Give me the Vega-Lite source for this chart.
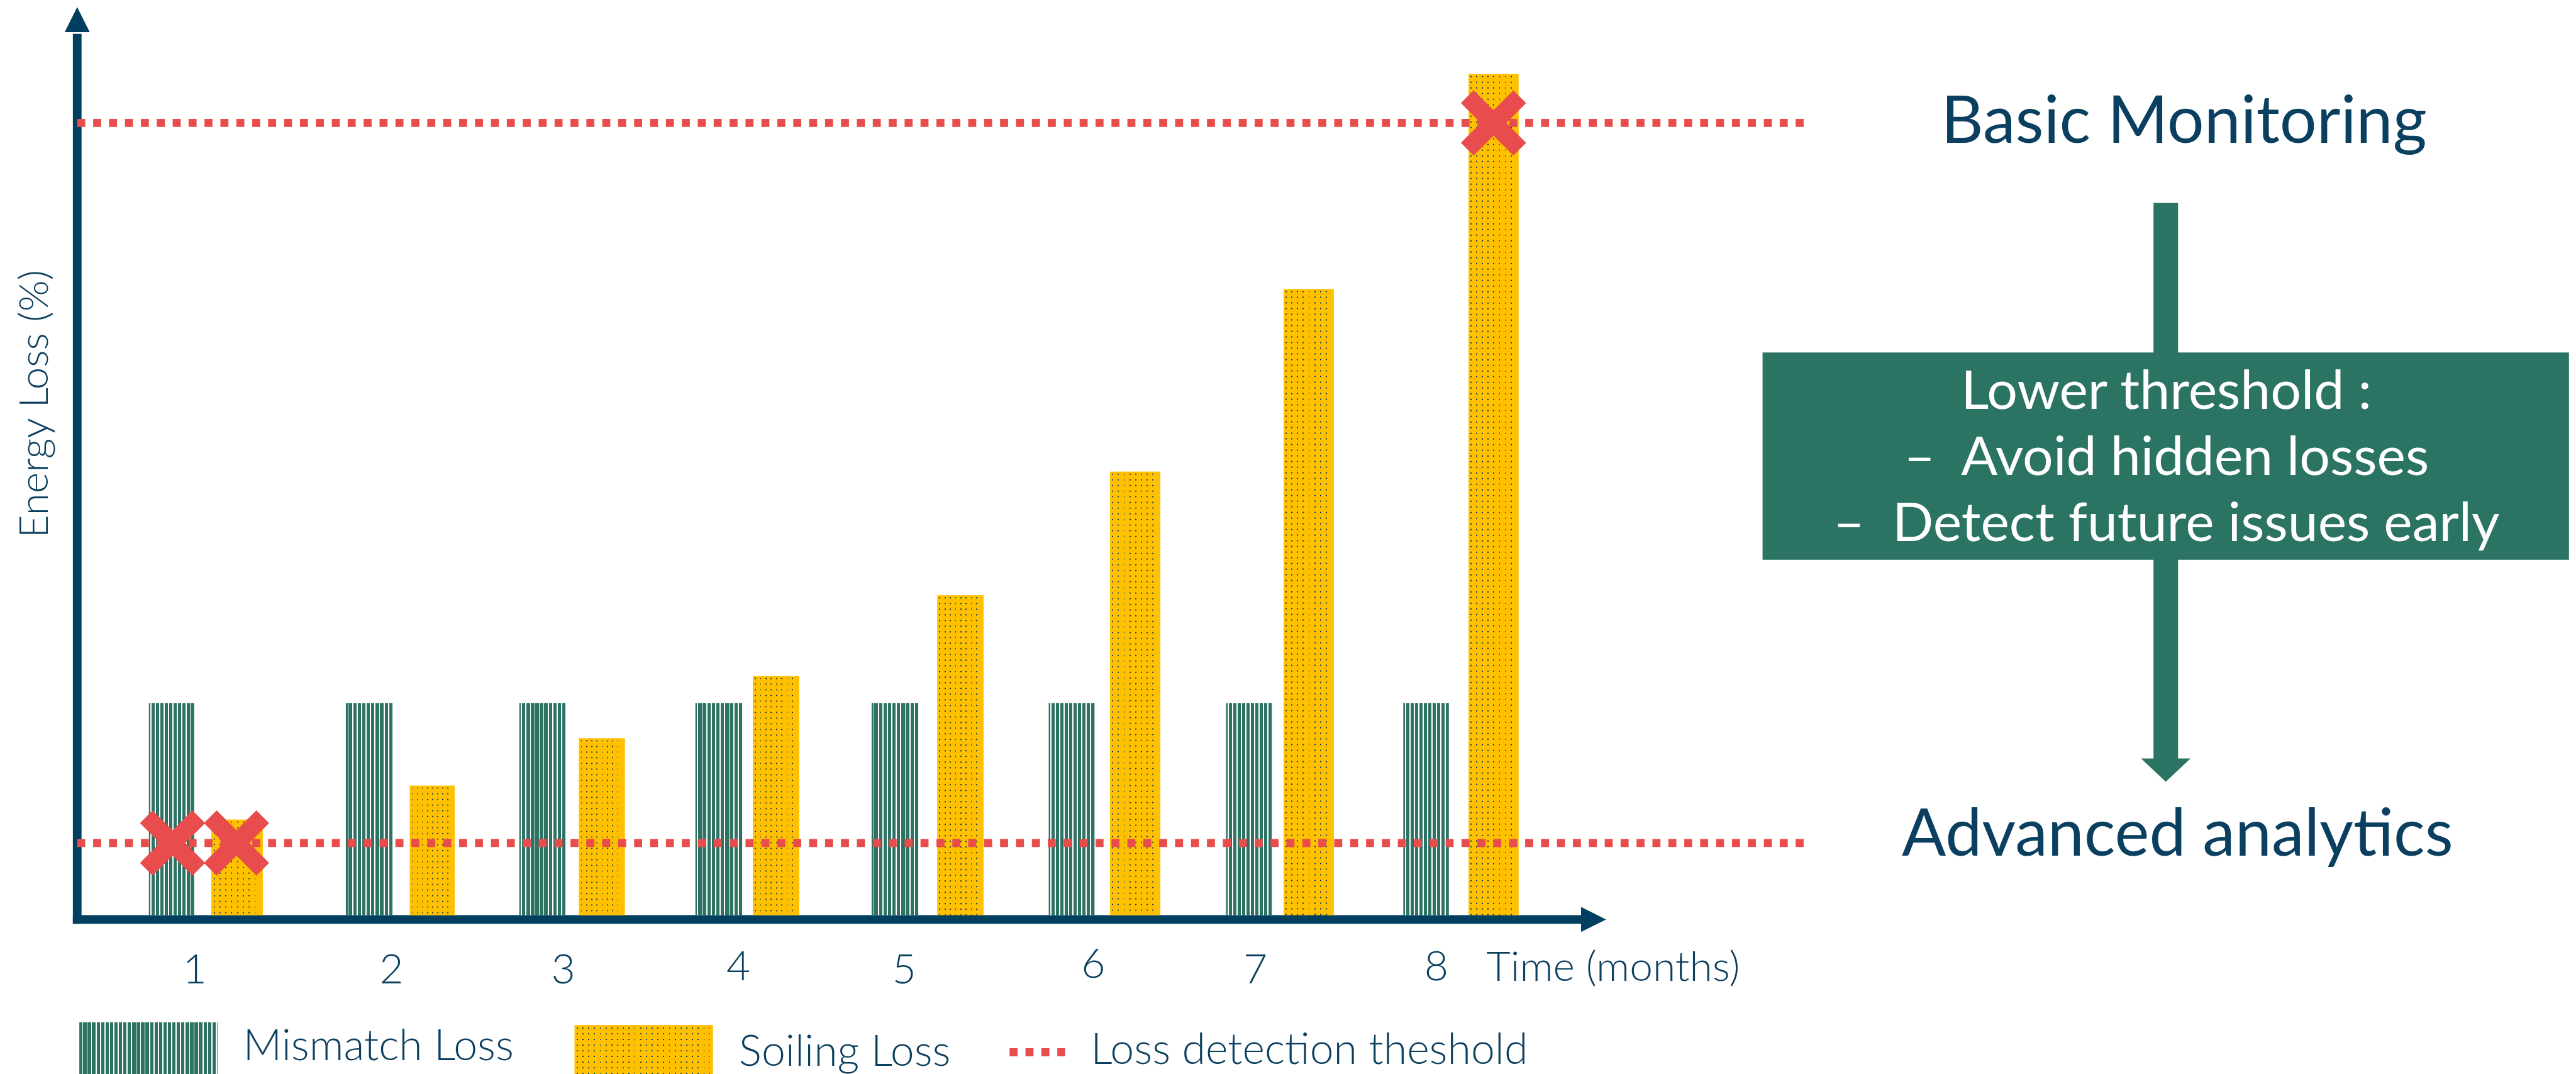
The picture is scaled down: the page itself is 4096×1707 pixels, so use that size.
{
  "$schema": "https://vega.github.io/schema/vega-lite/v6.json",
  "width": 4096,
  "height": 1707,
  "autosize": {"type": "none"},
  "padding": 0,
  "background": "#ffffff",
  "config": {"view": {"stroke": null}, "text": {"font": "Lato"}},
  "datasets": {
    "axes": [
      {"axis": "energy loss", "t": 0.196875, "t2": 0.196875, "v": -0.123, "v2": 12.46},
      {"axis": "time", "t": 0.172, "t2": 8.847, "v": -0.0615, "v2": -0.0615}
    ],
    "arrowheads": [
      {"axis": "time", "direction": "right", "t": 8.9125, "v": -0.0615},
      {"axis": "energy loss", "direction": "up", "t": 0.196875, "v": 12.6615}
    ],
    "mismatch": [
      {"month": 1, "start": 0.609, "end": 0.869, "loss": 3.0},
      {"month": 2, "start": 1.741, "end": 2.009, "loss": 3.0},
      {"month": 3, "start": 2.738, "end": 3.003, "loss": 3.0},
      {"month": 4, "start": 3.75, "end": 4.019, "loss": 3.0},
      {"month": 5, "start": 4.763, "end": 5.031, "loss": 3.0},
      {"month": 6, "start": 5.781, "end": 6.044, "loss": 3.0},
      {"month": 7, "start": 6.8, "end": 7.063, "loss": 3.0},
      {"month": 8, "start": 7.819, "end": 8.081, "loss": 3.0}
    ],
    "soiling": [
      {"month": 1, "start": 0.969, "end": 1.263, "loss": 1.35},
      {"month": 2, "start": 2.109, "end": 2.366, "loss": 1.83},
      {"month": 3, "start": 3.081, "end": 3.344, "loss": 2.5},
      {"month": 4, "start": 4.081, "end": 4.347, "loss": 3.38},
      {"month": 5, "start": 5.141, "end": 5.406, "loss": 4.52},
      {"month": 6, "start": 6.134, "end": 6.422, "loss": 6.27},
      {"month": 7, "start": 7.131, "end": 7.419, "loss": 8.85},
      {"month": 8, "start": 8.194, "end": 8.481, "loss": 11.89}
    ],
    "thresholds": [
      {"level": "Basic Monitoring", "loss": 11.2, "start": 0.197, "end": 10.144},
      {"level": "Advanced analytics", "loss": 1.02, "start": 0.197, "end": 10.144}
    ],
    "detections": [
      {"month": 1, "series": "Mismatch Loss", "t": 0.745, "loss": 1.02},
      {"month": 1, "series": "Soiling Loss", "t": 1.1125, "loss": 1.02},
      {"month": 8, "series": "Soiling Loss", "t": 8.3375, "loss": 11.2}
    ],
    "months": [
      {"month": 1, "t": 0.872, "v": -0.9615},
      {"month": 2, "t": 2.003, "v": -0.9615},
      {"month": 3, "t": 2.991, "v": -0.9615},
      {"month": 4, "t": 3.997, "v": -0.923},
      {"month": 5, "t": 4.95, "v": -0.9615},
      {"month": 6, "t": 6.0375, "v": -0.885},
      {"month": 7, "t": 6.969, "v": -0.9615},
      {"month": 8, "t": 8.009, "v": -0.923}
    ],
    "legend": [
      {"series": "Mismatch Loss", "start": 0.209, "end": 1.003, "top": -1.515, "bottom": -2.246, "label_t": 1.15, "label_v": -2.054},
      {"series": "Soiling Loss", "start": 3.056, "end": 3.85, "top": -1.554, "bottom": -2.246, "label_t": 4.0, "label_v": -2.131},
      {"series": "Loss detection theshold", "start": 5.556, "end": 5.875, "top": -1.938, "bottom": -1.938, "label_t": 6.022, "label_v": -2.1}
    ],
    "flow": [
      {"from": "Basic Monitoring", "to": "Advanced analytics", "t": 12.2016, "v": 10.069, "v2": 2.18, "head_v": 2.05}
    ],
    "box": [
      {"t": 9.884, "t2": 14.519, "v": 7.954, "v2": 5.023}
    ],
    "box_lines": [
      {"line": 1, "text": "Lower threshold :", "t": 12.205, "v": 7.154},
      {"line": 2, "text": "–\u00a0\u00a0Avoid hidden losses", "t": 12.205, "v": 6.223},
      {"line": 3, "text": "–\u00a0\u00a0Detect future issues early", "t": 12.205, "v": 5.292}
    ],
    "levels": [
      {"level": "Basic Monitoring", "t": 12.306, "v": 10.923},
      {"level": "Advanced analytics", "t": 12.269, "v": 0.838}
    ]
  },
  "layer": [
    {
      "data": {"name": "axes"},
      "mark": {"type": "rule", "color": "#003f5f", "strokeWidth": 13.8, "strokeCap": "butt"},
      "encoding": {
        "x": {"field": "t", "type": "quantitative", "scale": {"domain": [-0.246875, 14.559375], "nice": false, "zero": false}, "axis": null},
        "x2": {"field": "t2"},
        "y": {"field": "v", "type": "quantitative", "scale": {"domain": [-2.246154, 12.938462], "nice": false, "zero": false}, "axis": null},
        "y2": {"field": "v2"}
      }
    },
    {
      "data": {"name": "arrowheads"},
      "mark": {"type": "point", "filled": true, "opacity": 1, "size": 1579, "color": "#003f5f", "strokeWidth": 0},
      "encoding": {
        "x": {"field": "t", "type": "quantitative", "scale": {"domain": [-0.246875, 14.559375], "nice": false, "zero": false}, "axis": null},
        "y": {"field": "v", "type": "quantitative", "scale": {"domain": [-2.246154, 12.938462], "nice": false, "zero": false}, "axis": null},
        "shape": {"field": "direction", "type": "nominal", "scale": {"domain": ["right", "up"], "range": ["M-1,-1L1,0L-1,1Z", "M-1,1L0,-1L1,1Z"]}, "legend": null}
      }
    },
    {
      "data": {"name": "mismatch"},
      "mark": {
        "type": "rect",
        "fill": {
          "gradient": "linear", "x1": 0, "y1": 0, "x2": 1, "y2": 0,
          "stops": [
            {"offset": 0, "color": "#2c7363"},
            {"offset": 0.036, "color": "#2c7363"}, {"offset": 0.036, "color": "#ffffff"}, {"offset": 0.06, "color": "#ffffff"}, {"offset": 0.06, "color": "#2c7363"},
            {"offset": 0.1324, "color": "#2c7363"}, {"offset": 0.1324, "color": "#ffffff"}, {"offset": 0.1564, "color": "#ffffff"}, {"offset": 0.1564, "color": "#2c7363"},
            {"offset": 0.2288, "color": "#2c7363"}, {"offset": 0.2288, "color": "#ffffff"}, {"offset": 0.2528, "color": "#ffffff"}, {"offset": 0.2528, "color": "#2c7363"},
            {"offset": 0.3252, "color": "#2c7363"}, {"offset": 0.3252, "color": "#ffffff"}, {"offset": 0.3492, "color": "#ffffff"}, {"offset": 0.3492, "color": "#2c7363"},
            {"offset": 0.4216, "color": "#2c7363"}, {"offset": 0.4216, "color": "#ffffff"}, {"offset": 0.4456, "color": "#ffffff"}, {"offset": 0.4456, "color": "#2c7363"},
            {"offset": 0.518, "color": "#2c7363"}, {"offset": 0.518, "color": "#ffffff"}, {"offset": 0.542, "color": "#ffffff"}, {"offset": 0.542, "color": "#2c7363"},
            {"offset": 0.6144, "color": "#2c7363"}, {"offset": 0.6144, "color": "#ffffff"}, {"offset": 0.6384, "color": "#ffffff"}, {"offset": 0.6384, "color": "#2c7363"},
            {"offset": 0.7108, "color": "#2c7363"}, {"offset": 0.7108, "color": "#ffffff"}, {"offset": 0.7348, "color": "#ffffff"}, {"offset": 0.7348, "color": "#2c7363"},
            {"offset": 0.8072, "color": "#2c7363"}, {"offset": 0.8072, "color": "#ffffff"}, {"offset": 0.8312, "color": "#ffffff"}, {"offset": 0.8312, "color": "#2c7363"},
            {"offset": 0.9036, "color": "#2c7363"}, {"offset": 0.9036, "color": "#ffffff"}, {"offset": 0.9276, "color": "#ffffff"}, {"offset": 0.9276, "color": "#2c7363"},
            {"offset": 1, "color": "#2c7363"}
          ]
        }
      },
      "encoding": {
        "x": {"field": "start", "type": "quantitative", "scale": {"domain": [-0.246875, 14.559375], "nice": false, "zero": false}, "axis": null},
        "x2": {"field": "end"},
        "y": {"field": "loss", "type": "quantitative", "scale": {"domain": [-2.246154, 12.938462], "nice": false, "zero": false}, "axis": null},
        "y2": {"datum": 0}
      }
    },
    {
      "data": {"name": "soiling"},
      "mark": {"type": "rect", "fill": "#ffc000"},
      "encoding": {
        "x": {"field": "start", "type": "quantitative", "scale": {"domain": [-0.246875, 14.559375], "nice": false, "zero": false}, "axis": null},
        "x2": {"field": "end"},
        "y": {"field": "loss", "type": "quantitative", "scale": {"domain": [-2.246154, 12.938462], "nice": false, "zero": false}, "axis": null},
        "y2": {"datum": 0}
      }
    },
    {
      "data": {"name": "soiling"},
      "mark": {"type": "rule", "color": "#0e3b5c", "strokeWidth": 70, "xOffset": 35.5, "strokeDash": [1.8, 7.2], "strokeDashOffset": -3, "strokeCap": "butt"},
      "encoding": {
        "x": {"field": "start", "type": "quantitative", "scale": {"domain": [-0.246875, 14.559375], "nice": false, "zero": false}, "axis": null},
        "y": {"field": "loss", "type": "quantitative", "scale": {"domain": [-2.246154, 12.938462], "nice": false, "zero": false}, "axis": null},
        "y2": {"datum": 0}
      }
    },
    {
      "data": {"name": "soiling"},
      "mark": {
        "type": "rect",
        "fill": {
          "gradient": "linear", "x1": 0, "y1": 0, "x2": 1, "y2": 0,
          "stops": [
            {"offset": 0, "color": "#ffc000"},
            {"offset": 0.04, "color": "#ffc000"}, {"offset": 0.04, "color": "rgba(255,192,0,0)"}, {"offset": 0.064, "color": "rgba(255,192,0,0)"}, {"offset": 0.064, "color": "#ffc000"},
            {"offset": 0.154, "color": "#ffc000"}, {"offset": 0.154, "color": "rgba(255,192,0,0)"}, {"offset": 0.178, "color": "rgba(255,192,0,0)"}, {"offset": 0.178, "color": "#ffc000"},
            {"offset": 0.268, "color": "#ffc000"}, {"offset": 0.268, "color": "rgba(255,192,0,0)"}, {"offset": 0.292, "color": "rgba(255,192,0,0)"}, {"offset": 0.292, "color": "#ffc000"},
            {"offset": 0.382, "color": "#ffc000"}, {"offset": 0.382, "color": "rgba(255,192,0,0)"}, {"offset": 0.406, "color": "rgba(255,192,0,0)"}, {"offset": 0.406, "color": "#ffc000"},
            {"offset": 0.496, "color": "#ffc000"}, {"offset": 0.496, "color": "rgba(255,192,0,0)"}, {"offset": 0.52, "color": "rgba(255,192,0,0)"}, {"offset": 0.52, "color": "#ffc000"},
            {"offset": 0.61, "color": "#ffc000"}, {"offset": 0.61, "color": "rgba(255,192,0,0)"}, {"offset": 0.634, "color": "rgba(255,192,0,0)"}, {"offset": 0.634, "color": "#ffc000"},
            {"offset": 0.724, "color": "#ffc000"}, {"offset": 0.724, "color": "rgba(255,192,0,0)"}, {"offset": 0.748, "color": "rgba(255,192,0,0)"}, {"offset": 0.748, "color": "#ffc000"},
            {"offset": 0.838, "color": "#ffc000"}, {"offset": 0.838, "color": "rgba(255,192,0,0)"}, {"offset": 0.862, "color": "rgba(255,192,0,0)"}, {"offset": 0.862, "color": "#ffc000"},
            {"offset": 1, "color": "#ffc000"}
          ]
        }
      },
      "encoding": {
        "x": {"field": "start", "type": "quantitative", "scale": {"domain": [-0.246875, 14.559375], "nice": false, "zero": false}, "axis": null},
        "x2": {"field": "end"},
        "y": {"field": "loss", "type": "quantitative", "scale": {"domain": [-2.246154, 12.938462], "nice": false, "zero": false}, "axis": null},
        "y2": {"datum": 0}
      }
    },
    {
      "data": {"name": "thresholds"},
      "mark": {"type": "rule", "color": "#e84c4c", "strokeWidth": 12.7, "strokeDash": [12.7, 12.6], "strokeCap": "butt"},
      "encoding": {
        "x": {"field": "start", "type": "quantitative", "scale": {"domain": [-0.246875, 14.559375], "nice": false, "zero": false}, "axis": null},
        "x2": {"field": "end"},
        "y": {"field": "loss", "type": "quantitative", "scale": {"domain": [-2.246154, 12.938462], "nice": false, "zero": false}, "axis": null}
      }
    },
    {
      "data": {"name": "detections"},
      "mark": {"type": "point", "filled": true, "opacity": 1, "size": 10750, "color": "#e84c4c", "strokeWidth": 0,
               "shape": "M0,-0.39L0.61,-1L1,-0.61L0.39,0L1,0.61L0.61,1L0,0.39L-0.61,1L-1,0.61L-0.39,0L-1,-0.61L-0.61,-1Z"},
      "encoding": {
        "x": {"field": "t", "type": "quantitative", "scale": {"domain": [-0.246875, 14.559375], "nice": false, "zero": false}, "axis": null},
        "y": {"field": "loss", "type": "quantitative", "scale": {"domain": [-2.246154, 12.938462], "nice": false, "zero": false}, "axis": null}
      }
    },
    {
      "data": {"name": "months"},
      "mark": {"type": "text", "fontSize": 66, "fontWeight": 300, "color": "#0b3f5f", "align": "center", "baseline": "alphabetic"},
      "encoding": {
        "x": {"field": "t", "type": "quantitative", "scale": {"domain": [-0.246875, 14.559375], "nice": false, "zero": false}, "axis": null},
        "y": {"field": "v", "type": "quantitative", "scale": {"domain": [-2.246154, 12.938462], "nice": false, "zero": false}, "axis": null},
        "text": {"field": "month", "type": "nominal"}
      }
    },
    {
      "data": {"values": [{"title": "Time (months)", "t": 8.297, "v": -0.931}]},
      "mark": {"type": "text", "fontSize": 66, "fontWeight": 300, "color": "#0b3f5f", "align": "left", "baseline": "alphabetic"},
      "encoding": {
        "x": {"field": "t", "type": "quantitative", "scale": {"domain": [-0.246875, 14.559375], "nice": false, "zero": false}, "axis": null},
        "y": {"field": "v", "type": "quantitative", "scale": {"domain": [-2.246154, 12.938462], "nice": false, "zero": false}, "axis": null},
        "text": {"field": "title", "type": "nominal"}
      }
    },
    {
      "data": {"values": [{"title": "Energy Loss (%)", "t": 0.028, "v": 7.227}]},
      "mark": {"type": "text", "fontSize": 64, "fontWeight": 300, "color": "#0b3f5f", "align": "center", "baseline": "alphabetic", "angle": 270},
      "encoding": {
        "x": {"field": "t", "type": "quantitative", "scale": {"domain": [-0.246875, 14.559375], "nice": false, "zero": false}, "axis": null},
        "y": {"field": "v", "type": "quantitative", "scale": {"domain": [-2.246154, 12.938462], "nice": false, "zero": false}, "axis": null},
        "text": {"field": "title", "type": "nominal"}
      }
    },
    {
      "data": {"name": "legend"},
      "transform": [{"filter": "datum.series === 'Mismatch Loss'"}],
      "mark": {
        "type": "rect",
        "fill": {
          "gradient": "linear", "x1": 0, "y1": 0, "x2": 1, "y2": 0,
          "stops": [
            {"offset": 0, "color": "#2c7363"},
            {"offset": 0.02, "color": "#2c7363"}, {"offset": 0.02, "color": "#ffffff"}, {"offset": 0.028, "color": "#ffffff"}, {"offset": 0.028, "color": "#2c7363"},
            {"offset": 0.0523, "color": "#2c7363"}, {"offset": 0.0523, "color": "#ffffff"}, {"offset": 0.0603, "color": "#ffffff"}, {"offset": 0.0603, "color": "#2c7363"},
            {"offset": 0.0845, "color": "#2c7363"}, {"offset": 0.0845, "color": "#ffffff"}, {"offset": 0.0925, "color": "#ffffff"}, {"offset": 0.0925, "color": "#2c7363"},
            {"offset": 0.1168, "color": "#2c7363"}, {"offset": 0.1168, "color": "#ffffff"}, {"offset": 0.1248, "color": "#ffffff"}, {"offset": 0.1248, "color": "#2c7363"},
            {"offset": 0.149, "color": "#2c7363"}, {"offset": 0.149, "color": "#ffffff"}, {"offset": 0.157, "color": "#ffffff"}, {"offset": 0.157, "color": "#2c7363"},
            {"offset": 0.1813, "color": "#2c7363"}, {"offset": 0.1813, "color": "#ffffff"}, {"offset": 0.1893, "color": "#ffffff"}, {"offset": 0.1893, "color": "#2c7363"},
            {"offset": 0.2135, "color": "#2c7363"}, {"offset": 0.2135, "color": "#ffffff"}, {"offset": 0.2215, "color": "#ffffff"}, {"offset": 0.2215, "color": "#2c7363"},
            {"offset": 0.2458, "color": "#2c7363"}, {"offset": 0.2458, "color": "#ffffff"}, {"offset": 0.2538, "color": "#ffffff"}, {"offset": 0.2538, "color": "#2c7363"},
            {"offset": 0.2781, "color": "#2c7363"}, {"offset": 0.2781, "color": "#ffffff"}, {"offset": 0.2861, "color": "#ffffff"}, {"offset": 0.2861, "color": "#2c7363"},
            {"offset": 0.3103, "color": "#2c7363"}, {"offset": 0.3103, "color": "#ffffff"}, {"offset": 0.3183, "color": "#ffffff"}, {"offset": 0.3183, "color": "#2c7363"},
            {"offset": 0.3426, "color": "#2c7363"}, {"offset": 0.3426, "color": "#ffffff"}, {"offset": 0.3506, "color": "#ffffff"}, {"offset": 0.3506, "color": "#2c7363"},
            {"offset": 0.3748, "color": "#2c7363"}, {"offset": 0.3748, "color": "#ffffff"}, {"offset": 0.3828, "color": "#ffffff"}, {"offset": 0.3828, "color": "#2c7363"},
            {"offset": 0.4071, "color": "#2c7363"}, {"offset": 0.4071, "color": "#ffffff"}, {"offset": 0.4151, "color": "#ffffff"}, {"offset": 0.4151, "color": "#2c7363"},
            {"offset": 0.4394, "color": "#2c7363"}, {"offset": 0.4394, "color": "#ffffff"}, {"offset": 0.4474, "color": "#ffffff"}, {"offset": 0.4474, "color": "#2c7363"},
            {"offset": 0.4716, "color": "#2c7363"}, {"offset": 0.4716, "color": "#ffffff"}, {"offset": 0.4796, "color": "#ffffff"}, {"offset": 0.4796, "color": "#2c7363"},
            {"offset": 0.5039, "color": "#2c7363"}, {"offset": 0.5039, "color": "#ffffff"}, {"offset": 0.5119, "color": "#ffffff"}, {"offset": 0.5119, "color": "#2c7363"},
            {"offset": 0.5361, "color": "#2c7363"}, {"offset": 0.5361, "color": "#ffffff"}, {"offset": 0.5441, "color": "#ffffff"}, {"offset": 0.5441, "color": "#2c7363"},
            {"offset": 0.5684, "color": "#2c7363"}, {"offset": 0.5684, "color": "#ffffff"}, {"offset": 0.5764, "color": "#ffffff"}, {"offset": 0.5764, "color": "#2c7363"},
            {"offset": 0.6006, "color": "#2c7363"}, {"offset": 0.6006, "color": "#ffffff"}, {"offset": 0.6086, "color": "#ffffff"}, {"offset": 0.6086, "color": "#2c7363"},
            {"offset": 0.6329, "color": "#2c7363"}, {"offset": 0.6329, "color": "#ffffff"}, {"offset": 0.6409, "color": "#ffffff"}, {"offset": 0.6409, "color": "#2c7363"},
            {"offset": 0.6652, "color": "#2c7363"}, {"offset": 0.6652, "color": "#ffffff"}, {"offset": 0.6732, "color": "#ffffff"}, {"offset": 0.6732, "color": "#2c7363"},
            {"offset": 0.6974, "color": "#2c7363"}, {"offset": 0.6974, "color": "#ffffff"}, {"offset": 0.7054, "color": "#ffffff"}, {"offset": 0.7054, "color": "#2c7363"},
            {"offset": 0.7297, "color": "#2c7363"}, {"offset": 0.7297, "color": "#ffffff"}, {"offset": 0.7377, "color": "#ffffff"}, {"offset": 0.7377, "color": "#2c7363"},
            {"offset": 0.7619, "color": "#2c7363"}, {"offset": 0.7619, "color": "#ffffff"}, {"offset": 0.7699, "color": "#ffffff"}, {"offset": 0.7699, "color": "#2c7363"},
            {"offset": 0.7942, "color": "#2c7363"}, {"offset": 0.7942, "color": "#ffffff"}, {"offset": 0.8022, "color": "#ffffff"}, {"offset": 0.8022, "color": "#2c7363"},
            {"offset": 0.8265, "color": "#2c7363"}, {"offset": 0.8265, "color": "#ffffff"}, {"offset": 0.8345, "color": "#ffffff"}, {"offset": 0.8345, "color": "#2c7363"},
            {"offset": 0.8587, "color": "#2c7363"}, {"offset": 0.8587, "color": "#ffffff"}, {"offset": 0.8667, "color": "#ffffff"}, {"offset": 0.8667, "color": "#2c7363"},
            {"offset": 0.891, "color": "#2c7363"}, {"offset": 0.891, "color": "#ffffff"}, {"offset": 0.899, "color": "#ffffff"}, {"offset": 0.899, "color": "#2c7363"},
            {"offset": 0.9232, "color": "#2c7363"}, {"offset": 0.9232, "color": "#ffffff"}, {"offset": 0.9312, "color": "#ffffff"}, {"offset": 0.9312, "color": "#2c7363"},
            {"offset": 0.9555, "color": "#2c7363"}, {"offset": 0.9555, "color": "#ffffff"}, {"offset": 0.9635, "color": "#ffffff"}, {"offset": 0.9635, "color": "#2c7363"},
            {"offset": 0.9877, "color": "#2c7363"}, {"offset": 0.9877, "color": "#ffffff"}, {"offset": 0.9957, "color": "#ffffff"}, {"offset": 0.9957, "color": "#2c7363"},
            {"offset": 1, "color": "#2c7363"}
          ]
        }
      },
      "encoding": {
        "x": {"field": "start", "type": "quantitative", "scale": {"domain": [-0.246875, 14.559375], "nice": false, "zero": false}, "axis": null},
        "x2": {"field": "end"},
        "y": {"field": "top", "type": "quantitative", "scale": {"domain": [-2.246154, 12.938462], "nice": false, "zero": false}, "axis": null},
        "y2": {"field": "bottom"}
      }
    },
    {
      "data": {"name": "legend"},
      "transform": [{"filter": "datum.series === 'Soiling Loss'"}],
      "mark": {"type": "rect", "fill": "#ffc000"},
      "encoding": {
        "x": {"field": "start", "type": "quantitative", "scale": {"domain": [-0.246875, 14.559375], "nice": false, "zero": false}, "axis": null},
        "x2": {"field": "end"},
        "y": {"field": "top", "type": "quantitative", "scale": {"domain": [-2.246154, 12.938462], "nice": false, "zero": false}, "axis": null},
        "y2": {"field": "bottom"}
      }
    },
    {
      "data": {"name": "legend"},
      "transform": [{"filter": "datum.series === 'Soiling Loss'"}],
      "mark": {"type": "rule", "color": "#0e3b5c", "strokeWidth": 216, "xOffset": 109.5, "strokeDash": [1.8, 7.2], "strokeDashOffset": -4, "strokeCap": "butt"},
      "encoding": {
        "x": {"field": "start", "type": "quantitative", "scale": {"domain": [-0.246875, 14.559375], "nice": false, "zero": false}, "axis": null},
        "y": {"field": "top", "type": "quantitative", "scale": {"domain": [-2.246154, 12.938462], "nice": false, "zero": false}, "axis": null},
        "y2": {"field": "bottom"}
      }
    },
    {
      "data": {"name": "legend"},
      "transform": [{"filter": "datum.series === 'Soiling Loss'"}],
      "mark": {
        "type": "rect",
        "fill": {
          "gradient": "linear", "x1": 0, "y1": 0, "x2": 1, "y2": 0,
          "stops": [
            {"offset": 0, "color": "#ffc000"},
            {"offset": 0.015, "color": "#ffc000"}, {"offset": 0.015, "color": "rgba(255,192,0,0)"}, {"offset": 0.0232, "color": "rgba(255,192,0,0)"}, {"offset": 0.0232, "color": "#ffc000"},
            {"offset": 0.0567, "color": "#ffc000"}, {"offset": 0.0567, "color": "rgba(255,192,0,0)"}, {"offset": 0.0649, "color": "rgba(255,192,0,0)"}, {"offset": 0.0649, "color": "#ffc000"},
            {"offset": 0.0984, "color": "#ffc000"}, {"offset": 0.0984, "color": "rgba(255,192,0,0)"}, {"offset": 0.1066, "color": "rgba(255,192,0,0)"}, {"offset": 0.1066, "color": "#ffc000"},
            {"offset": 0.1401, "color": "#ffc000"}, {"offset": 0.1401, "color": "rgba(255,192,0,0)"}, {"offset": 0.1483, "color": "rgba(255,192,0,0)"}, {"offset": 0.1483, "color": "#ffc000"},
            {"offset": 0.1818, "color": "#ffc000"}, {"offset": 0.1818, "color": "rgba(255,192,0,0)"}, {"offset": 0.19, "color": "rgba(255,192,0,0)"}, {"offset": 0.19, "color": "#ffc000"},
            {"offset": 0.2235, "color": "#ffc000"}, {"offset": 0.2235, "color": "rgba(255,192,0,0)"}, {"offset": 0.2317, "color": "rgba(255,192,0,0)"}, {"offset": 0.2317, "color": "#ffc000"},
            {"offset": 0.2652, "color": "#ffc000"}, {"offset": 0.2652, "color": "rgba(255,192,0,0)"}, {"offset": 0.2734, "color": "rgba(255,192,0,0)"}, {"offset": 0.2734, "color": "#ffc000"},
            {"offset": 0.3069, "color": "#ffc000"}, {"offset": 0.3069, "color": "rgba(255,192,0,0)"}, {"offset": 0.3151, "color": "rgba(255,192,0,0)"}, {"offset": 0.3151, "color": "#ffc000"},
            {"offset": 0.3486, "color": "#ffc000"}, {"offset": 0.3486, "color": "rgba(255,192,0,0)"}, {"offset": 0.3568, "color": "rgba(255,192,0,0)"}, {"offset": 0.3568, "color": "#ffc000"},
            {"offset": 0.3903, "color": "#ffc000"}, {"offset": 0.3903, "color": "rgba(255,192,0,0)"}, {"offset": 0.3985, "color": "rgba(255,192,0,0)"}, {"offset": 0.3985, "color": "#ffc000"},
            {"offset": 0.432, "color": "#ffc000"}, {"offset": 0.432, "color": "rgba(255,192,0,0)"}, {"offset": 0.4402, "color": "rgba(255,192,0,0)"}, {"offset": 0.4402, "color": "#ffc000"},
            {"offset": 0.4737, "color": "#ffc000"}, {"offset": 0.4737, "color": "rgba(255,192,0,0)"}, {"offset": 0.4819, "color": "rgba(255,192,0,0)"}, {"offset": 0.4819, "color": "#ffc000"},
            {"offset": 0.5154, "color": "#ffc000"}, {"offset": 0.5154, "color": "rgba(255,192,0,0)"}, {"offset": 0.5236, "color": "rgba(255,192,0,0)"}, {"offset": 0.5236, "color": "#ffc000"},
            {"offset": 0.5571, "color": "#ffc000"}, {"offset": 0.5571, "color": "rgba(255,192,0,0)"}, {"offset": 0.5653, "color": "rgba(255,192,0,0)"}, {"offset": 0.5653, "color": "#ffc000"},
            {"offset": 0.5988, "color": "#ffc000"}, {"offset": 0.5988, "color": "rgba(255,192,0,0)"}, {"offset": 0.607, "color": "rgba(255,192,0,0)"}, {"offset": 0.607, "color": "#ffc000"},
            {"offset": 0.6405, "color": "#ffc000"}, {"offset": 0.6405, "color": "rgba(255,192,0,0)"}, {"offset": 0.6487, "color": "rgba(255,192,0,0)"}, {"offset": 0.6487, "color": "#ffc000"},
            {"offset": 0.6822, "color": "#ffc000"}, {"offset": 0.6822, "color": "rgba(255,192,0,0)"}, {"offset": 0.6904, "color": "rgba(255,192,0,0)"}, {"offset": 0.6904, "color": "#ffc000"},
            {"offset": 0.7239, "color": "#ffc000"}, {"offset": 0.7239, "color": "rgba(255,192,0,0)"}, {"offset": 0.7321, "color": "rgba(255,192,0,0)"}, {"offset": 0.7321, "color": "#ffc000"},
            {"offset": 0.7656, "color": "#ffc000"}, {"offset": 0.7656, "color": "rgba(255,192,0,0)"}, {"offset": 0.7738, "color": "rgba(255,192,0,0)"}, {"offset": 0.7738, "color": "#ffc000"},
            {"offset": 0.8073, "color": "#ffc000"}, {"offset": 0.8073, "color": "rgba(255,192,0,0)"}, {"offset": 0.8155, "color": "rgba(255,192,0,0)"}, {"offset": 0.8155, "color": "#ffc000"},
            {"offset": 0.849, "color": "#ffc000"}, {"offset": 0.849, "color": "rgba(255,192,0,0)"}, {"offset": 0.8572, "color": "rgba(255,192,0,0)"}, {"offset": 0.8572, "color": "#ffc000"},
            {"offset": 0.8907, "color": "#ffc000"}, {"offset": 0.8907, "color": "rgba(255,192,0,0)"}, {"offset": 0.8989, "color": "rgba(255,192,0,0)"}, {"offset": 0.8989, "color": "#ffc000"},
            {"offset": 0.9324, "color": "#ffc000"}, {"offset": 0.9324, "color": "rgba(255,192,0,0)"}, {"offset": 0.9406, "color": "rgba(255,192,0,0)"}, {"offset": 0.9406, "color": "#ffc000"},
            {"offset": 0.9741, "color": "#ffc000"}, {"offset": 0.9741, "color": "rgba(255,192,0,0)"}, {"offset": 0.9823, "color": "rgba(255,192,0,0)"}, {"offset": 0.9823, "color": "#ffc000"},
            {"offset": 1, "color": "#ffc000"}
          ]
        }
      },
      "encoding": {
        "x": {"field": "start", "type": "quantitative", "scale": {"domain": [-0.246875, 14.559375], "nice": false, "zero": false}, "axis": null},
        "x2": {"field": "end"},
        "y": {"field": "top", "type": "quantitative", "scale": {"domain": [-2.246154, 12.938462], "nice": false, "zero": false}, "axis": null},
        "y2": {"field": "bottom"}
      }
    },
    {
      "data": {"name": "legend"},
      "transform": [{"filter": "datum.series === 'Loss detection theshold'"}],
      "mark": {"type": "rule", "color": "#e84c4c", "strokeWidth": 12.7, "strokeDash": [12.7, 12.6], "strokeCap": "butt"},
      "encoding": {
        "x": {"field": "start", "type": "quantitative", "scale": {"domain": [-0.246875, 14.559375], "nice": false, "zero": false}, "axis": null},
        "x2": {"field": "end"},
        "y": {"field": "top", "type": "quantitative", "scale": {"domain": [-2.246154, 12.938462], "nice": false, "zero": false}, "axis": null}
      }
    },
    {
      "data": {"name": "legend"},
      "mark": {"type": "text", "fontSize": 68, "fontWeight": 300, "color": "#0b3f5f", "align": "left", "baseline": "alphabetic"},
      "encoding": {
        "x": {"field": "label_t", "type": "quantitative", "scale": {"domain": [-0.246875, 14.559375], "nice": false, "zero": false}, "axis": null},
        "y": {"field": "label_v", "type": "quantitative", "scale": {"domain": [-2.246154, 12.938462], "nice": false, "zero": false}, "axis": null},
        "text": {"field": "series", "type": "nominal"}
      }
    },
    {
      "data": {"name": "flow"},
      "mark": {"type": "rule", "color": "#2b7363", "strokeWidth": 39, "strokeCap": "butt"},
      "encoding": {
        "x": {"field": "t", "type": "quantitative", "scale": {"domain": [-0.246875, 14.559375], "nice": false, "zero": false}, "axis": null},
        "y": {"field": "v", "type": "quantitative", "scale": {"domain": [-2.246154, 12.938462], "nice": false, "zero": false}, "axis": null},
        "y2": {"field": "v2"}
      }
    },
    {
      "data": {"name": "flow"},
      "mark": {"type": "point", "filled": true, "opacity": 1, "size": 6180, "color": "#2b7363", "strokeWidth": 0,
               "shape": "M-1,-0.4725L1,-0.4725L0,0.4725Z"},
      "encoding": {
        "x": {"field": "t", "type": "quantitative", "scale": {"domain": [-0.246875, 14.559375], "nice": false, "zero": false}, "axis": null},
        "y": {"field": "head_v", "type": "quantitative", "scale": {"domain": [-2.246154, 12.938462], "nice": false, "zero": false}, "axis": null}
      }
    },
    {
      "data": {"name": "box"},
      "mark": {"type": "rect", "fill": "#2b7363"},
      "encoding": {
        "x": {"field": "t", "type": "quantitative", "scale": {"domain": [-0.246875, 14.559375], "nice": false, "zero": false}, "axis": null},
        "x2": {"field": "t2"},
        "y": {"field": "v", "type": "quantitative", "scale": {"domain": [-2.246154, 12.938462], "nice": false, "zero": false}, "axis": null},
        "y2": {"field": "v2"}
      }
    },
    {
      "data": {"name": "box_lines"},
      "mark": {"type": "text", "fontSize": 86, "fontWeight": 400, "color": "#ffffff", "align": "center", "baseline": "alphabetic"},
      "encoding": {
        "x": {"field": "t", "type": "quantitative", "scale": {"domain": [-0.246875, 14.559375], "nice": false, "zero": false}, "axis": null},
        "y": {"field": "v", "type": "quantitative", "scale": {"domain": [-2.246154, 12.938462], "nice": false, "zero": false}, "axis": null},
        "text": {"field": "text", "type": "nominal"}
      }
    },
    {
      "data": {"name": "levels"},
      "mark": {"type": "text", "fontSize": 104, "fontWeight": 400, "color": "#0b3f5f", "align": "center", "baseline": "alphabetic"},
      "encoding": {
        "x": {"field": "t", "type": "quantitative", "scale": {"domain": [-0.246875, 14.559375], "nice": false, "zero": false}, "axis": null},
        "y": {"field": "v", "type": "quantitative", "scale": {"domain": [-2.246154, 12.938462], "nice": false, "zero": false}, "axis": null},
        "text": {"field": "level", "type": "nominal"}
      }
    }
  ]
}
